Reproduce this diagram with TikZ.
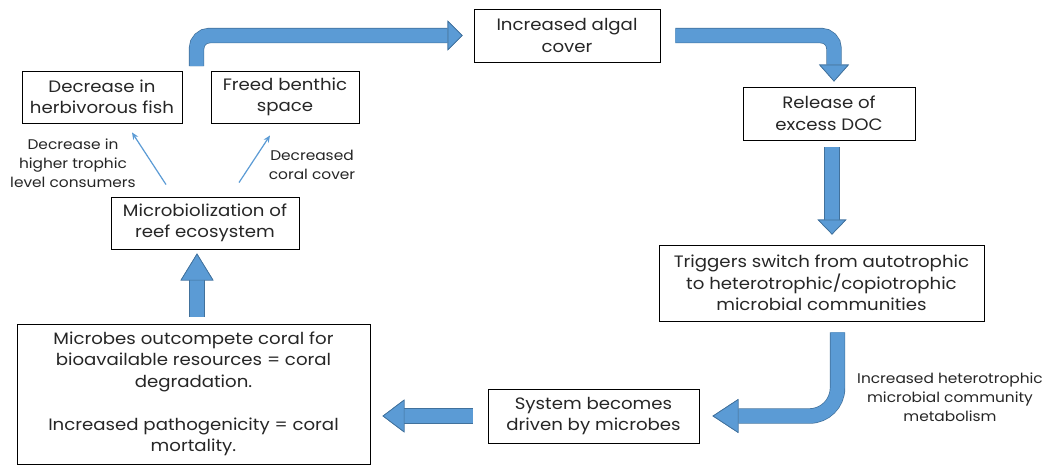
\documentclass[tikz,border=0pt]{standalone}
\usepackage{fontspec}
\setmainfont{Poppins}[FakeStretch=1.1]
\usepackage{xcolor}
\usetikzlibrary{arrows.meta,positioning,calc}

\definecolor{arrowblue}{HTML}{5B9BD5}
\definecolor{arrowedge}{HTML}{41719C}

\begin{document}
\begin{tikzpicture}[
  x=1pt, y=-1pt,
  every node/.style={font=\fontsize{16.5}{21.5}\selectfont, text=black!85},
  box/.style={draw=black, line width=0.9pt, align=center, inner sep=2pt},
  note/.style={align=center, font=\fontsize{14}{19}\selectfont},
  blockarrow/.style 2 args={line width=14pt, draw=arrowblue,
    -{Triangle[width=#1,length=#2,line width=0.7pt,fill=arrowblue,color=arrowedge]},
    preaction={draw=arrowedge, line width=15.4pt}},
  thinarrow/.style={-{Stealth[length=7pt,width=6pt]}, draw=arrowblue, line width=1.2pt}
]
\path[use as bounding box, fill=white] (0,0) rectangle (1049,466);

% boxes
\node[box, minimum width=160pt, minimum height=52pt] (fish) at (102,97) {Decrease in\\herbivorous fish};
\node[box, minimum width=148pt, minimum height=52pt] (benthic) at (285,97) {Freed benthic\\space};
\node[box, minimum width=186pt, minimum height=53pt] (algal) at (567,35.5) {Increased algal\\cover};
\node[box, minimum width=172pt, minimum height=53pt] (doc) at (829,113.5) {Release of\\excess DOC};
\node[box, minimum width=325pt, minimum height=76pt] (switch) at (821.5,283) {Triggers switch from autotrophic\\to heterotrophic/copiotrophic\\microbial communities};
\node[box, minimum width=211pt, minimum height=54pt] (driven) at (593.5,416) {System becomes\\driven by microbes};
\node[box, minimum width=353pt, minimum height=140pt] (outcompete) at (193.5,394) {Microbes outcompete coral for\\bioavailable resources = coral\\degradation.\\[21.5pt]Increased pathogenicity = coral\\mortality.};
\node[box, minimum width=188pt, minimum height=52pt] (microbio) at (205,223) {Microbiolization of\\reef ecosystem};

% labels
\node[note] (lbltrophic) at (73,163) {Decrease in\\higher trophic\\level consumers};
\node[note] (lblcover) at (312,165) {Decreased\\coral cover};
\node[note] (lblmetab) at (950,397) {Increased heterotrophic\\microbial community\\metabolism};

% block arrows
\coordinate (rise) at (196.5,66);
\draw[blockarrow={30pt}{15pt}, rounded corners=13pt, shorten >=11pt] (rise) |- (algal.west);
\draw[blockarrow={30pt}{17pt}, rounded corners=13pt, shorten <=15pt, shorten >=5pt] (algal.east) -| ([xshift=5pt]doc.north);
\draw[blockarrow={29pt}{15pt}, shorten <=7pt, shorten >=10pt] ([xshift=3pt]doc.south) -- ([xshift=3pt]doc.south |- switch.north);
\draw[blockarrow={34pt}{26pt}, rounded corners=28pt, shorten <=11pt, shorten >=13pt] ([xshift=16pt]switch.south) |- (driven.east);
\draw[blockarrow={33pt}{22pt}, shorten <=15pt, shorten >=12pt] (driven.west) -- (driven.west -| outcompete.east);
\draw[blockarrow={33pt}{27pt}, shorten <=7pt, shorten >=4pt] ([xshift=3.5pt]outcompete.north) -- ([xshift=3.5pt]outcompete.north |- microbio.south);

% thin arrows
\draw[thinarrow] ([xshift=-39pt,yshift=12pt]microbio.north) -- ([xshift=30pt,yshift=-9pt]fish.south);
\draw[thinarrow] ([xshift=34pt,yshift=14pt]microbio.north) -- ([xshift=-15pt,yshift=-12pt]benthic.south);
\end{tikzpicture}
\end{document}
